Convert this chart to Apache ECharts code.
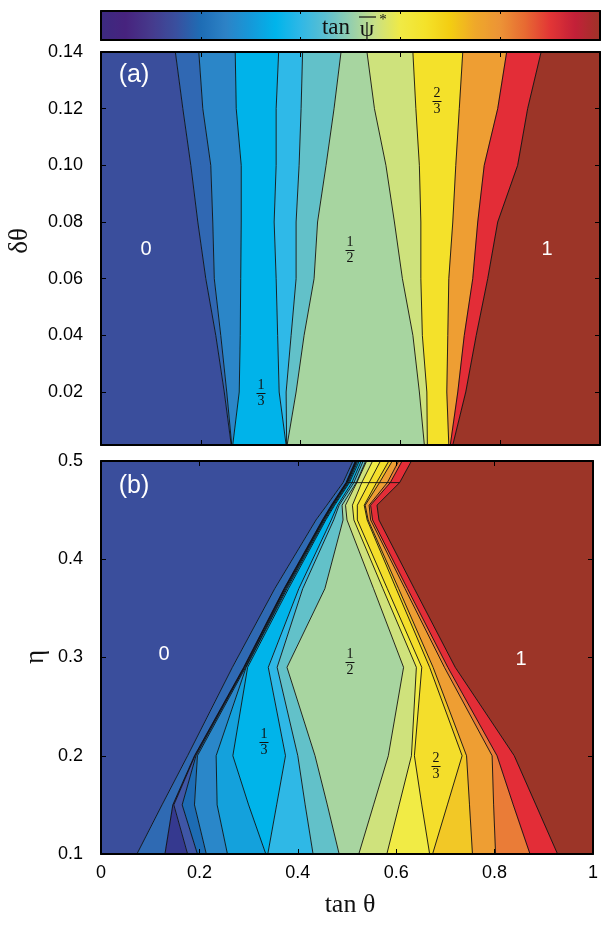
<!DOCTYPE html>
<html>
<head>
<meta charset="utf-8">
<script src="https://cdn.jsdelivr.net/npm/echarts@6/dist/echarts.min.js"></script>
<style>
  html, body { margin: 0; padding: 0; background: #fff; }
  #chart { width: 601px; height: 926px; }
</style>
</head>
<body>
<div id="chart"></div>
<script>
// tick values
const ticksYA = [0.02, 0.04, 0.06, 0.08, 0.10, 0.12, 0.14];

// colour bar (tan psi*, 0 -> 1)
const barColors = ['#3c2a80', '#47237e', '#463a8c', '#3a4f9e', '#1e6db5', '#2d82c6', '#1599d9',
  '#00b4eb', '#2fb8e6', '#5cbfd1', '#94cfae', '#c9e084', '#f0ea45', '#f4e22a', '#f3cd12',
  '#efa82a', '#ec9336', '#e76a32', '#e23536', '#c32038', '#9e3328'];

// panel (a): contour boundaries, x = tan(theta) at each delta-theta level
const levelsA = [0.0013, 0.02, 0.04, 0.06, 0.08, 0.10, 0.12, 0.14];
const colorsA = ['#3a4e9c', '#3068b3', '#2b86c8', '#00b3ea', '#2fb9e8', '#62c1c9',
  '#a7d5a0', '#cee27c', '#f4e12a', '#ee9e33', '#e32d37', '#9c3528'];
const boundsA = [
  [0.261, 0.247, 0.230, 0.210, 0.194, 0.180, 0.164, 0.149],
  [0.262, 0.252, 0.240, 0.227, 0.224, 0.220, 0.204, 0.196],
  [0.264, 0.277, 0.279, 0.280, 0.281, 0.281, 0.271, 0.269],
  [0.371, 0.357, 0.354, 0.351, 0.347, 0.351, 0.351, 0.356],
  [0.372, 0.371, 0.381, 0.391, 0.391, 0.397, 0.401, 0.404],
  [0.373, 0.391, 0.407, 0.427, 0.434, 0.451, 0.467, 0.481],
  [0.648, 0.638, 0.625, 0.604, 0.588, 0.571, 0.548, 0.533],
  [0.654, 0.653, 0.644, 0.641, 0.641, 0.638, 0.631, 0.625],
  [0.697, 0.693, 0.695, 0.697, 0.705, 0.711, 0.718, 0.725],
  [0.700, 0.715, 0.728, 0.745, 0.755, 0.768, 0.795, 0.813],
  [0.705, 0.731, 0.752, 0.775, 0.795, 0.835, 0.855, 0.882]
];

// panel (b): contour boundaries, x = tan(theta) at each eta level
const levelsB = [0.1, 0.15, 0.2, 0.29, 0.37, 0.44, 0.455, 0.478, 0.5];
const colorsB = ['#3a4e9c', '#2f6ab3', '#35398f', '#3f56a6', '#1d6cb4', '#2a87c9', '#14a1dc',
  '#00b4ea', '#2fb8e6', '#62c1c9', '#a8d5a0', '#cfe27c', '#f1eb45', '#f4de2b', '#f2c826',
  '#ee9e33', '#ea7c37', '#e32d37', '#9c3528'];
const boundsB = [
  [0.073, 0.124, 0.176, 0.267, 0.353, 0.437, 0.459, 0.492, 0.512],
  [0.130, 0.146, 0.190, 0.290, 0.372, 0.450, 0.468, 0.498, 0.517],
  [0.176, 0.148, 0.191, 0.291, 0.373, 0.451, 0.469, 0.499, 0.518],
  [0.196, 0.165, 0.193, 0.292, 0.374, 0.452, 0.470, 0.500, 0.519],
  [0.214, 0.190, 0.196, 0.294, 0.376, 0.453, 0.471, 0.501, 0.520],
  [0.257, 0.236, 0.234, 0.295, 0.378, 0.455, 0.473, 0.503, 0.522],
  [0.335, 0.300, 0.268, 0.298, 0.381, 0.457, 0.475, 0.505, 0.525],
  [0.339, 0.357, 0.375, 0.340, 0.402, 0.468, 0.481, 0.510, 0.529],
  [0.431, 0.415, 0.400, 0.358, 0.410, 0.473, 0.484, 0.514, 0.533],
  [0.484, 0.460, 0.435, 0.378, 0.455, 0.492, 0.490, 0.519, 0.538],
  [0.524, 0.554, 0.584, 0.615, 0.554, 0.500, 0.497, 0.520, 0.540],
  [0.581, 0.606, 0.631, 0.641, 0.573, 0.514, 0.511, 0.530, 0.552],
  [0.668, 0.652, 0.637, 0.652, 0.582, 0.521, 0.521, 0.545, 0.568],
  [0.674, 0.704, 0.734, 0.668, 0.600, 0.541, 0.535, 0.560, 0.585],
  [0.755, 0.749, 0.743, 0.675, 0.605, 0.543, 0.537, 0.566, 0.592],
  [0.802, 0.798, 0.795, 0.698, 0.618, 0.548, 0.545, 0.582, 0.605],
  [0.872, 0.838, 0.805, 0.705, 0.623, 0.552, 0.548, 0.588, 0.612],
  [0.928, 0.884, 0.840, 0.720, 0.637, 0.565, 0.561, 0.607, 0.631]
];
const kinkB = [[0.501, 0.478], [0.607, 0.478]];

const chart = echarts.init(document.getElementById('chart'));

const sansFont = 'Liberation Sans, Arial, sans-serif';
const serifFont = 'Liberation Serif, Times New Roman, serif';

function xAx(grid, pos, labels) {
  return {
    type: 'value', gridIndex: grid, position: pos, min: 0, max: 1, interval: 0.2, z: 10,
    axisLine: { show: true, onZero: false, lineStyle: { color: '#000', width: 2 } },
    axisTick: { show: true, inside: true, length: grid === 2 ? 3 : 5, lineStyle: { color: '#000', width: 1 } },
    axisLabel: {
      show: labels, margin: 10, color: '#000', fontSize: 18, fontFamily: sansFont,
      formatter: v => (v === 0 || v === 1) ? String(v) : v.toFixed(1)
    },
    splitLine: { show: false }
  };
}

function yAx(grid, pos, cfg, labels) {
  return Object.assign({
    type: 'value', gridIndex: grid, position: pos, z: 10,
    axisLine: { show: true, onZero: false, lineStyle: { color: '#000', width: 2 } },
    splitLine: { show: false }
  }, cfg, {
    axisTick: Object.assign({ show: grid !== 2, inside: true, length: 5, lineStyle: { color: '#000', width: 1 } }, cfg.axisTick || {}),
    axisLabel: Object.assign({ show: labels, margin: 18, color: '#000', fontSize: 18, fontFamily: sansFont }, cfg.axisLabel || {})
  });
}

function bandSeries(axisIdx, levels, bounds, colors) {
  return {
    type: 'custom',
    coordinateSystem: 'cartesian2d',
    xAxisIndex: axisIdx, yAxisIndex: axisIdx,
    clip: true, silent: true, z: 2,
    data: colors.map((c, i) => [i]),
    renderItem: function (params, api) {
      const i = params.dataIndex;
      const left = i === 0 ? levels.map(() => 0) : bounds[i - 1];
      const right = i === colors.length - 1 ? levels.map(() => 1) : bounds[i];
      const pts = [];
      levels.forEach((y, k) => pts.push(api.coord([left[k], y])));
      for (let k = levels.length - 1; k >= 0; k--) pts.push(api.coord([right[k], levels[k]]));
      const children = [{
        type: 'polygon', z2: 1,
        shape: { points: pts },
        style: { fill: colors[i], stroke: colors[i], lineWidth: 0.6 }
      }];
      if (i < bounds.length) {
        children.push({
          type: 'polyline', z2: 50,
          shape: { points: levels.map((y, k) => api.coord([bounds[i][k], y])) },
          style: { stroke: '#111', lineWidth: 0.9, fill: null }
        });
      }
      return { type: 'group', children: children };
    }
  };
}

function txt(x, y, text, size, color, family, extra) {
  return Object.assign({
    type: 'text', x: x, y: y, z: 100,
    style: {
      text: text, x: 0, y: 0, fill: color, font: size + 'px ' + family,
      align: 'center', verticalAlign: 'middle', textAlign: 'center', textVerticalAlign: 'middle'
    }
  }, extra || {});
}

function fraction(cx, cy, num, den) {
  return [
    txt(cx, cy - 7.5, num, 14, '#111', serifFont),
    { type: 'line', z: 100, shape: { x1: cx - 4.5, y1: cy + 0.5, x2: cx + 4.5, y2: cy + 0.5 }, style: { stroke: '#111', lineWidth: 1 } },
    txt(cx, cy + 8.5, den, 14, '#111', serifFont)
  ];
}

const option = {
  animation: false,
  grid: [
    { left: 101, top: 52, width: 499, height: 393 },
    { left: 101, top: 461, width: 499, height: 393 },
    { left: 101, top: 11, width: 499, height: 29 }
  ],
  xAxis: [
    xAx(0, 'bottom', false), xAx(0, 'top', false),
    xAx(1, 'bottom', true), xAx(1, 'top', false),
    xAx(2, 'bottom', false), xAx(2, 'top', false)
  ],
  yAxis: [
    yAx(0, 'left', { min: 0.0013, max: 0.14, axisTick: { customValues: ticksYA }, axisLabel: { customValues: ticksYA, formatter: v => v.toFixed(2) } }, true),
    yAx(0, 'right', { min: 0.0013, max: 0.14, axisTick: { customValues: ticksYA } }, false),
    yAx(1, 'left', { min: 0.1, max: 0.5, interval: 0.1, axisLabel: { formatter: v => v.toFixed(1) } }, true),
    yAx(1, 'right', { min: 0.1, max: 0.5, interval: 0.1 }, false),
    yAx(2, 'left', { min: 0, max: 1 }, false),
    yAx(2, 'right', { min: 0, max: 1 }, false)
  ],
  visualMap: {
    type: 'continuous', min: 0, max: 1, orient: 'horizontal',
    left: 101, top: 11, itemWidth: 29, itemHeight: 499, padding: 0,
    calculable: false, realtime: false, seriesIndex: [], text: null, z: 5,
    inRange: { color: barColors }
  },
  series: [
    bandSeries(0, levelsA, boundsA, colorsA),
    bandSeries(2, levelsB, boundsB, colorsB),
    {
      type: 'line', xAxisIndex: 2, yAxisIndex: 2, data: kinkB, symbol: 'none', silent: true, z: 3,
      lineStyle: { color: '#111', width: 0.9 }
    }
  ],
  graphic: [
    // colour bar title
    txt(336, 28, 'tan', 23, '#111', serifFont),
    txt(367, 30, 'ψ', 23, '#111', serifFont),
    { type: 'line', z: 100, shape: { x1: 359, y1: 17, x2: 376, y2: 17 }, style: { stroke: '#111', lineWidth: 1.2 } },
    txt(383, 20, '*', 15, '#111', serifFont),
    // axis titles
    txt(20, 241, 'δθ', 27, '#111', serifFont, { rotation: Math.PI / 2 }),
    txt(36, 657, 'η', 27, '#111', serifFont, { rotation: Math.PI / 2 }),
    txt(350, 905, 'tan θ', 26, '#111', serifFont),
    // panel tags
    txt(134, 75, '(a)', 25, '#fff', sansFont),
    txt(134, 486, '(b)', 25, '#fff', sansFont),
    // region labels
    txt(146, 249, '0', 20, '#fff', sansFont),
    txt(547, 249, '1', 20, '#fff', sansFont),
    txt(164, 654, '0', 20, '#fff', sansFont),
    txt(521, 659, '1', 20, '#fff', sansFont)
  ].concat(
    fraction(350, 250, '1', '2'),
    fraction(261, 393, '1', '3'),
    fraction(437, 101, '2', '3'),
    fraction(350, 662, '1', '2'),
    fraction(264, 742, '1', '3'),
    fraction(436, 766, '2', '3')
  )
};

chart.setOption(option);
</script>
</body>
</html>
